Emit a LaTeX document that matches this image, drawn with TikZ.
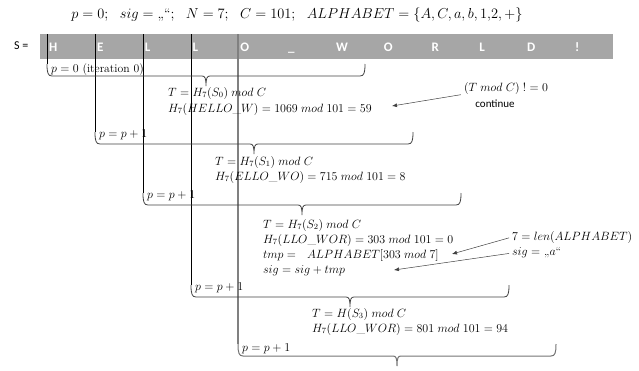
\documentclass[tikz,border=0pt]{standalone}
\usepackage{fontspec}
\usepackage{amsmath}
\newfontfamily\carlito{Carlito}
\usetikzlibrary{arrows.meta}
\definecolor{grisbarre}{HTML}{A6A6A6}
\definecolor{grisfonce}{HTML}{404040}
% accolade horizontale : gauche, droite, bas
\newcommand{\accolade}[4][]{%
  \pgfmathsetmacro\accmil{(#2+#3)/2}
  \draw[accol,#1] (#2,#4-12) .. controls (#2,#4-3) and (#2+1,#4) .. (#2+5,#4)
    -- (\accmil-4,#4) .. controls (\accmil-1,#4) and (\accmil,#4+2) .. (\accmil,#4+10)
    .. controls (\accmil,#4+2) and (\accmil+1,#4) .. (\accmil+4,#4)
    -- (#3-5,#4) .. controls (#3-1,#4) and (#3,#4-3) .. (#3,#4-12);}

\begin{document}
\begin{tikzpicture}[x=1pt,y=-1pt]
%styles des noeuds
\tikzstyle{entete}=[inner sep=0pt,font=\fontsize{14}{16}\selectfont]
\tikzstyle{lettre}=[anchor=base west,inner sep=0pt,text=white,font=\carlito\bfseries\fontsize{13}{15}\selectfont]
\tikzstyle{calcul}=[anchor=base west,inner sep=0pt,font=\fontsize{11.7}{14}\selectfont]
\tikzstyle{note}=[inner sep=0pt,font=\fontsize{11.7}{14}\selectfont]
%styles des traits
\tikzstyle{accol}=[draw=grisfonce,line width=0.8pt]
\tikzstyle{trait}=[draw=black,line width=0.8pt]
\tikzstyle{fleche}=[-{Latex[length=5pt,width=4pt]},draw=grisfonce,line width=0.5pt,shorten <=3pt]
\useasboundingbox (0,0) rectangle (639,370);
%donnees et chaine
\node[entete] (donnees) at (297,15) {$p=0;\ \ sig=\text{„“};\ \ N=7;\ \ C=101;\ \ ALPHABET=\{A,C,a,b,1{,}2,+\}$};
\node[anchor=west,inner sep=0pt,font=\carlito\fontsize{12}{14}\selectfont] (S) at (14,46) {S =};
\fill[grisbarre] (40,34) rectangle (613,59);
\foreach \c [count=\i from 0] in {H,E,L,L,O,\_,W,O,R,L,D,!}
  \node[lettre] (c\i) at (49+47.8*\i,51) {\c};
%traits verticaux
\draw[trait] (47,34) -- (47,64);
\draw[trait] (95,34) -- (95,132);
\draw[trait] (143,34) -- (143,193);
\draw[trait] (191,34) -- (191,285);
\draw[trait,draw=black!50,line width=1.1pt] (238,34) -- (238,344);
%accolades
\accolade{47}{365}{76}
\accolade{95}{413}{144}
\accolade{143}{461}{205}
\accolade{191}{509}{297}
\accolade[draw=black!55,line width=1pt]{238}{556}{356}
%etiquettes p
\node[calcul] (p0) at (51,72) {$p=0$ (iteration 0)};
\node[calcul] (p1) at (99,137) {$p=p+1$};
\node[calcul] (p2) at (147,198) {$p=p+1$};
\node[calcul] (p3) at (195,290) {$p=p+1$};
\node[calcul] (p4) at (242,351) {$p=p+1$};
%calculs
\node[calcul] (t0) at (168,96) {$T=H_7(S_0)\;mod\;C$};
\node[calcul] (h0) at (168,112) {$H_7(HELLO\_W)=1069\;mod\;101=59$};
\node[calcul] (t1) at (215,165) {$T=H_7(S_1)\;mod\;C$};
\node[calcul] (h1) at (215,180) {$H_7(ELLO\_WO)=715\;mod\;101=8$};
\node[calcul] (t2) at (263,228) {$T=H_7(S_2)\;mod\;C$};
\node[calcul] (h2) at (263,243) {$H_7(LLO\_WOR)=303\;mod\;101=0$};
\node[calcul] (tmp) at (263,258) {$tmp=\ \ ALPHABET[303\;mod\;7]$};
\node[calcul] (sig) at (263,273) {$sig=sig+tmp$};
\node[calcul] (t3) at (312,317) {$T=H(S_3)\;mod\;C$};
\node[calcul] (h3) at (312,332) {$H_7(LLO\_WOR)=801\;mod\;101=94$};
%remarques
\node[note] (reste) at (506,88) {$(T\;mod\;C)\;!=0$};
\node[note,font=\carlito\fontsize{11}{13}\selectfont] (suite) at (495,104) {continue};
\node[note,anchor=west] (longueur) at (512,237) {$7=len(ALPHABET)$};
\node[note,anchor=west] (resultat) at (512,253) {$sig=$ „$a$“};
\coordinate (bout0) at (392,106);
\coordinate (bout1) at (452,254);
\coordinate (bout2) at (394,270);
%fleches
\draw[fleche] (reste.south west) -- (bout0);
\draw[fleche] (longueur.west) -- (bout1);
\draw[fleche] (resultat.west) -- (bout2);
\end{tikzpicture}
\end{document}
